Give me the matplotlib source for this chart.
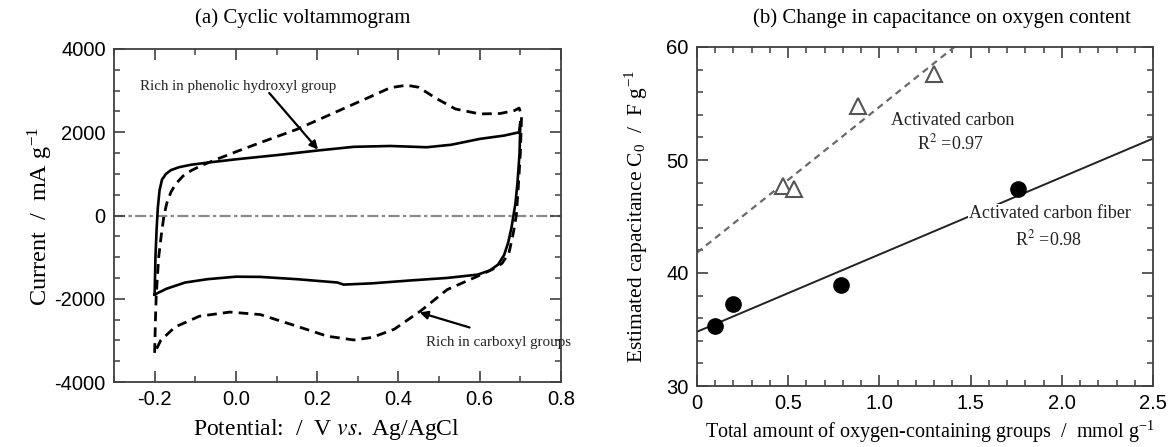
import matplotlib
matplotlib.use("Agg")
import matplotlib.pyplot as plt
from matplotlib.ticker import MultipleLocator
import numpy as np

# ---------------- data ----------------
# (a) cyclic voltammogram, closed loops (anodic then cathodic branch)
phenolic_E = [-0.200, -0.198, -0.195, -0.192, -0.188, -0.182, -0.172, -0.160, -0.140, -0.110,
              -0.070, 0.000, 0.100, 0.200, 0.290, 0.380, 0.470, 0.530, 0.600, 0.660,
              0.697, 0.700, 0.698, 0.693, 0.688, 0.683, 0.678, 0.670, 0.660, 0.645,
              0.625, 0.595, 0.520, 0.430, 0.335, 0.265, 0.250, 0.150, 0.060, 0.000,
              -0.070, -0.125, -0.171, -0.200]
phenolic_I = [-1900, -1000, -300, 200, 600, 860, 1000, 1090, 1160, 1220,
              1270, 1350, 1450, 1560, 1650, 1670, 1640, 1700, 1840, 1920,
              2000, 2250, 1500, 800, 300, 0, -300, -650, -950, -1180,
              -1320, -1420, -1500, -1560, -1630, -1660, -1610, -1530, -1475, -1470,
              -1530, -1610, -1760, -1900]

carboxyl_E = [-0.200, -0.198, -0.196, -0.190, -0.184, -0.177, -0.170, -0.160, -0.148, -0.130,
              -0.110, -0.085, -0.050, 0.000, 0.060, 0.150, 0.240, 0.330, 0.380, 0.420,
              0.450, 0.490, 0.540, 0.600, 0.650, 0.685, 0.697, 0.703, 0.700, 0.695,
              0.690, 0.683, 0.672, 0.655, 0.630, 0.590, 0.520, 0.455, 0.390, 0.335,
              0.290, 0.225, 0.150, 0.060, -0.015, -0.090, -0.150, -0.185, -0.200]
carboxyl_I = [-3300, -2500, -1900, -1000, -500, 0, 300, 560, 760, 950,
              1080, 1200, 1340, 1530, 1750, 2070, 2460, 2850, 3070, 3130,
              3080, 2830, 2560, 2440, 2450, 2520, 2580, 2400, 1500, 700,
              0, -400, -900, -1150, -1300, -1480, -1780, -2290, -2730, -2930,
              -2990, -2900, -2660, -2380, -2320, -2420, -2680, -3000, -3300]

# (b) capacitance vs oxygen content
acf_x = [0.10, 0.20, 0.79, 1.76]
acf_y = [35.3, 37.3, 38.9, 47.4]
ac_x = [0.47, 0.53, 0.88, 1.30]
ac_y = [47.7, 47.4, 54.8, 57.6]
acf_fit = [34.8, 6.84]   # intercept, slope
ac_fit = [41.8, 12.9]

# ---------------- figure ----------------
W, H = 1168, 447
plt.rcParams['mathtext.fontset'] = 'stix'
plt.rcParams['axes.unicode_minus'] = False
fig = plt.figure(figsize=(W / 100, H / 100), dpi=100)
SERIF = 'Liberation Serif'
SANS = 'Liberation Sans'
SPINE = '#404040'


def ax_at(l, t, r, b):
    return fig.add_axes([l / W, 1 - b / H, (r - l) / W, (b - t) / H])


def style(ax):
    for s in ax.spines.values():
        s.set_color(SPINE)
        s.set_linewidth(1.3)
    ax.tick_params(which='both', direction='in', top=True, right=True, color=SPINE)
    ax.tick_params(which='major', length=8, width=1.2, labelsize=14.5, pad=6)
    ax.tick_params(which='minor', length=4.5, width=1.1)
    for lab in ax.get_xticklabels() + ax.get_yticklabels():
        lab.set_fontfamily(SANS)


ARROW = dict(arrowstyle='-|>', color='black', lw=1.6, mutation_scale=12, shrinkA=0, shrinkB=0)

# ---- panel (a)
ax1 = ax_at(114, 49, 561, 382)
ax1.set_xlim(-0.3, 0.8)
ax1.set_ylim(-4000, 4000)
ax1.xaxis.set_major_locator(MultipleLocator(0.2))
ax1.xaxis.set_minor_locator(MultipleLocator(0.1))
ax1.yaxis.set_major_locator(MultipleLocator(2000))
ax1.yaxis.set_minor_locator(MultipleLocator(500))
ax1.xaxis.set_major_formatter(matplotlib.ticker.FuncFormatter(lambda v, p: f"{v:.1f}"))
ax1.axhline(0, color='#8a8a8a', lw=1.6, ls='-.', dashes=(5, 1.5, 1.5, 1.5), zorder=1)
ax1.plot(phenolic_E, phenolic_I, color='black', lw=1.9, zorder=3)
ax1.plot(carboxyl_E, carboxyl_I, color='black', lw=2.0, ls=(0, (3.5, 2.2)), zorder=2)
style(ax1)

ax1.text(-0.236, 3104, 'Rich in phenolic hydroxyl group', fontsize=10.8, family=SERIF,
         ha='left', va='center', color='#222222')
ax1.annotate('', xy=(0.202, 1584), xytext=(0.082, 2944), arrowprops=ARROW)
ax1.text(0.469, -3056, 'Rich in carboxyl groups', fontsize=10.8, family=SERIF,
         ha='left', va='center', color='#222222')
ax1.annotate('', xy=(0.452, -2330), xytext=(0.575, -2690), arrowprops=ARROW)

fig.text(303 / W, 1 - 18 / H, '(a) Cyclic voltammogram', family=SERIF, fontsize=15,
         ha='center', va='center')
fig.text(326 / W, 1 - 430 / H, 'Potential:  /  V $\\it{vs.}$ Ag/AgCl', family=SERIF,
         fontsize=17, ha='center', va='center')
fig.text(40 / W, 1 - 216 / H, 'Current  /  mA g$^{\\mathregular{-1}}$', family=SERIF,
         fontsize=17.5, ha='center', va='center', rotation=90)

# ---- panel (b)
ax2 = ax_at(697, 47, 1153, 386)
ax2.set_xlim(0, 2.5)
ax2.set_ylim(30, 60)
ax2.xaxis.set_major_locator(MultipleLocator(0.5))
ax2.xaxis.set_minor_locator(MultipleLocator(0.1))
ax2.yaxis.set_major_locator(MultipleLocator(10))
ax2.yaxis.set_minor_locator(MultipleLocator(2))
ax2.xaxis.set_major_formatter(matplotlib.ticker.FuncFormatter(
    lambda v, p: '0' if abs(v) < 1e-9 else f"{v:.1f}"))

xx = np.array([0.0, 2.5])
ax2.plot(xx, acf_fit[0] + acf_fit[1] * xx, color='#222222', lw=1.4, zorder=2)
ax2.plot(xx, ac_fit[0] + ac_fit[1] * xx, color='#6a6a6a', lw=1.6, ls=(0, (3, 2.2)), zorder=2)
ax2.plot(acf_x, acf_y, 'o', color='black', ms=11, zorder=4)
ax2.plot(ac_x, ac_y, '^', mfc='white', mec='#555555', mew=1.5, ms=11.5, zorder=4)
style(ax2)

ax2.text(1.404, 53.5, 'Activated carbon', family=SERIF, fontsize=13, ha='center', va='center',
         color='#222222')
ax2.text(1.39, 51.5, 'R$^2$ =0.97', family=SERIF, fontsize=13, ha='center', va='center',
         color='#222222')
ax2.text(1.936, 45.3, 'Activated carbon fiber', family=SERIF, fontsize=13, ha='center',
         va='center', color='#222222', zorder=3,
         bbox=dict(boxstyle='square,pad=0.05', fc='white', ec='none'))
ax2.text(1.926, 43.0, 'R$^2$ =0.98', family=SERIF, fontsize=13, ha='center', va='center',
         color='#222222')

fig.text(942 / W, 1 - 18 / H, '(b) Change in capacitance on oxygen content', family=SERIF,
         fontsize=15, ha='center', va='center')
fig.text(930 / W, 1 - 432 / H, 'Total amount of oxygen-containing groups  /  mmol g$^{\\mathregular{-1}}$',
         family=SERIF, fontsize=14.5, ha='center', va='center')
fig.text(636 / W, 1 - 216 / H, 'Estimated capacitance C$_{\\mathregular{0}}$  /  F g$^{\\mathregular{-1}}$',
         family=SERIF, fontsize=15.5, ha='center', va='center', rotation=90)

fig.savefig('out.png', dpi=100)
